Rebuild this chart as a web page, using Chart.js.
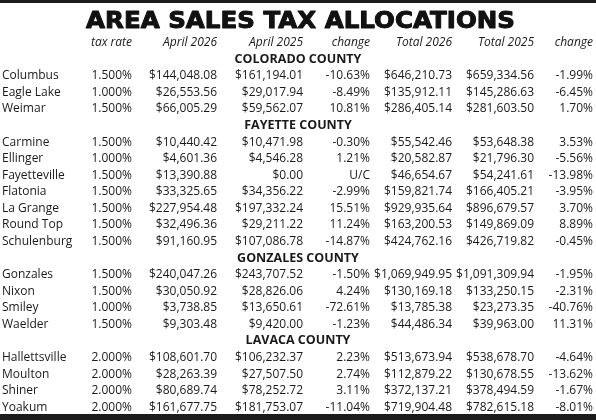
<!DOCTYPE html>
<html><head><meta charset="utf-8">
<script src="https://cdn.jsdelivr.net/npm/chart.js@4.4.1/dist/chart.umd.min.js"></script>
<style>html,body{margin:0;padding:0;background:#fff;overflow:hidden}canvas{display:block}</style>
</head><body>
<canvas id="c" width="596" height="420"></canvas>
<script>
// ---------- DATA ----------
const titleText = "AREA SALES TAX ALLOCATIONS";
const columnHeaders = ["tax rate", "April 2026", "April 2025", "change", "Total 2026", "Total 2025", "change"];
const counties = ["COLORADO COUNTY", "FAYETTE COUNTY", "GONZALES COUNTY", "LAVACA COUNTY"];
const cities = ["Columbus", "Eagle Lake", "Weimar",
  "Carmine", "Ellinger", "Fayetteville", "Flatonia", "La Grange", "Round Top", "Schulenburg",
  "Gonzales", "Nixon", "Smiley", "Waelder",
  "Hallettsville", "Moulton", "Shiner", "Yoakum"];
const countyOf = [0,0,0, 1,1,1,1,1,1,1, 2,2,2,2, 3,3,3,3];
const taxRate = [1.5,1.0,1.5, 1.5,1.0,1.5,1.5,1.5,1.5,1.5, 1.5,1.5,1.0,1.5, 2.0,2.0,2.0,2.0];
const april2026 = [144048.08, 26553.56, 66005.29,
  10440.42, 4601.36, 13390.88, 33325.65, 227954.48, 32496.36, 91160.95,
  240047.26, 30050.92, 3738.85, 9303.48,
  108601.70, 28263.39, 80689.74, 161677.75];
const april2025 = [161194.01, 29017.94, 59562.07,
  10471.98, 4546.28, 0.00, 34356.22, 197332.24, 29211.22, 107086.78,
  243707.52, 28826.06, 13650.61, 9420.00,
  106232.37, 27507.50, 78252.72, 181753.07];
const aprilChange = [-10.63, -8.49, 10.81,
  -0.30, 1.21, null, -2.99, 15.51, 11.24, -14.87,
  -1.50, 4.24, -72.61, -1.23,
  2.23, 2.74, 3.11, -11.04];
const total2026 = [646210.73, 135912.11, 286405.14,
  55542.46, 20582.87, 46654.67, 159821.74, 929935.64, 163200.53, 424762.16,
  1069949.95, 130169.18, 13785.38, 44486.34,
  513673.94, 112879.22, 372137.21, 719904.48];
const total2025 = [659334.56, 145286.63, 281603.50,
  53648.38, 21796.30, 54241.61, 166405.21, 896679.57, 149869.09, 426719.82,
  1091309.94, 133250.15, 23273.35, 39963.00,
  538678.70, 130678.55, 378494.59, 782615.18];
const totalChange = [-1.99, -6.45, 1.70,
  3.53, -5.56, -13.98, -3.95, 3.70, 8.89, -0.45,
  -1.95, -2.31, -40.76, 11.31,
  -4.64, -13.62, -1.67, -8.01];

// ---------- LAYOUT / STYLE ----------
const W = 596, H = 420;
const colRight = [132, 217, 303, 370, 452, 534, 593];
const nameX = 2, countyX = 298;
const ink = '#1a1a1a';
const bodyFont = '12px "Open Sans"';
const boldFont = 'bold 12.5px "Open Sans"';
const italFont = 'italic 12px "Open Sans"';

function money(v) {
  const neg = v < 0; v = Math.abs(v);
  let s = v.toFixed(2); let [i, d] = s.split('.');
  i = i.replace(/\B(?=(\d{3})+(?!\d))/g, ',');
  return (neg ? '-' : '') + '$' + i + '.' + d;
}
const pct = (v, n) => v == null ? 'U/C' : v.toFixed(n) + '%';

// row keys for the category axis
const rowKeys = ['hdr'];
counties.forEach((c, ci) => {
  rowKeys.push('county' + ci);
  cities.forEach((n, i) => { if (countyOf[i] === ci) rowKeys.push('city' + i); });
});

const valueCols = [
  cities.map((_, i) => pct(taxRate[i], 3)),
  april2026.map(money),
  april2025.map(money),
  aprilChange.map(v => pct(v, 2)),
  total2026.map(money),
  total2025.map(money),
  totalChange.map(v => pct(v, 2))
];

const datasets = [];
datasets.push({ label: 'headers', font: italFont, align: 'right',
  data: columnHeaders.map((h, j) => ({ x: colRight[j], y: 'hdr', t: h })) });
datasets.push({ label: 'counties', font: boldFont, align: 'center',
  data: counties.map((c, ci) => ({ x: countyX, y: 'county' + ci, t: c })) });
datasets.push({ label: 'cities', font: bodyFont, align: 'left',
  data: cities.map((n, i) => ({ x: nameX, y: 'city' + i, t: n })) });
valueCols.forEach((col, j) => {
  datasets.push({ label: columnHeaders[j], font: bodyFont, align: 'right',
    data: col.map((t, i) => ({ x: colRight[j], y: 'city' + i, t: t })) });
});
datasets.forEach(d => { d.pointRadius = 0; d.pointHoverRadius = 0; d.showLine = false; });

const tablePlugin = {
  id: 'tableText',
  beforeDraw(chart) {
    const ctx = chart.ctx;
    ctx.save();
    ctx.fillStyle = '#fff'; ctx.fillRect(0, 0, W, H);
    ctx.fillStyle = '#1c1c1c';
    ctx.fillRect(0, 0, W, 3);
    ctx.fillRect(0, 414, W, 6);
    // title
    ctx.font = 'bold 23px "DejaVu Sans"';
    const w = ctx.measureText(titleText).width;
    ctx.translate(300.5, 27.5);
    ctx.scale(429 / w, 1);
    ctx.textAlign = 'center'; ctx.textBaseline = 'alphabetic';
    ctx.fillStyle = '#111'; ctx.strokeStyle = '#111'; ctx.lineWidth = 1.0; ctx.lineJoin = 'round';
    ctx.strokeText(titleText, 0, 0);
    ctx.fillText(titleText, 0, 0);
    ctx.restore();
  },
  afterDatasetsDraw(chart) {
    const ctx = chart.ctx;
    ctx.save();
    ctx.fillStyle = ink;
    ctx.textBaseline = 'alphabetic';
    chart.data.datasets.forEach((ds, i) => {
      const meta = chart.getDatasetMeta(i);
      ctx.font = ds.font; ctx.textAlign = ds.align;
      meta.data.forEach((el, k) => {
        ctx.fillText(ds.data[k].t, el.x, el.y + 4.1);
      });
    });
    ctx.restore();
  }
};

new Chart(document.getElementById('c'), {
  type: 'scatter',
  data: { datasets },
  options: {
    responsive: false, animation: false, devicePixelRatio: 1,
    layout: { padding: { top: 42, bottom: 13.4, left: 0, right: 0 } },
    plugins: { legend: { display: false }, tooltip: { enabled: false } },
    events: [],
    scales: {
      x: { type: 'linear', min: 0, max: W, display: false },
      y: { type: 'category', labels: rowKeys, offset: false, display: false }
    }
  },
  plugins: [tablePlugin]
});
</script>
</body></html>
